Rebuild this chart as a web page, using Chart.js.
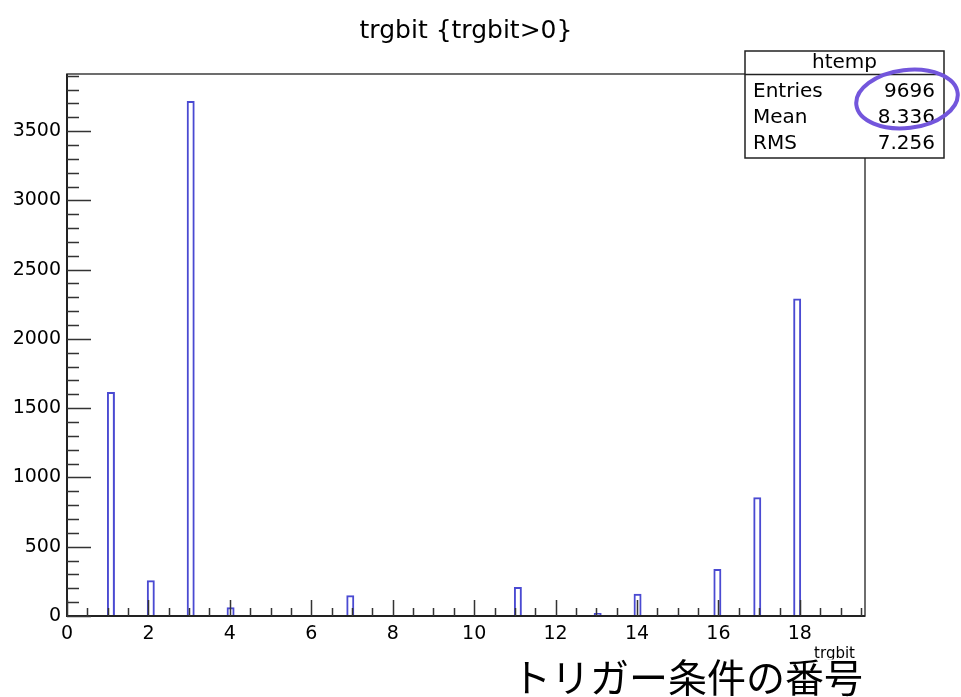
<!DOCTYPE html>
<html>
<head>
<meta charset="utf-8">
<script src="https://cdn.jsdelivr.net/npm/chart.js@4.4.1/dist/chart.umd.min.js"></script>
<style>
  html, body { margin: 0; padding: 0; background: #ffffff; }
  canvas { display: block; }
</style>
</head>
<body>
<canvas id="hist" width="961" height="697"></canvas>
<script>
// Histogram definition: 100 bins over [0, 19.6]
const histName = 'htemp';
const titleText = 'trgbit {trgbit>0}';
const xAxisTitle = 'trgbit';
const captionText = 'トリガー条件の番号';
const nBins = 100;
const xMin = 0;
const xMax = 19.6;
const yMax = 3912;

// Filled trigger-bit values and their counts
const trgbitValues = [1, 2, 3, 4, 7, 11, 13, 14, 15, 16, 17, 18];
const trgbitCounts = [1616, 258, 3718, 64, 150, 210, 22, 160, 9, 340, 857, 2292];

// Axis tick labels
const xTickValues = [0, 2, 4, 6, 8, 10, 12, 14, 16, 18];
const yTickValues = [0, 500, 1000, 1500, 2000, 2500, 3000, 3500];

// Fill the bins
const binWidth = (xMax - xMin) / nBins;
const binLabels = [];
const binContents = [];
for (let i = 0; i < nBins; i++) {
  binLabels.push((xMin + (i + 0.5) * binWidth).toFixed(3));
  binContents.push(null);
}
trgbitValues.forEach((v, k) => {
  const idx = Math.floor((v - xMin) / binWidth + 1e-9);
  binContents[idx] = (binContents[idx] || 0) + trgbitCounts[k];
});

// Statistics box contents
const nEntries = trgbitCounts.reduce((a, b) => a + b, 0);
const sumX = trgbitValues.reduce((a, v, k) => a + v * trgbitCounts[k], 0);
const sumX2 = trgbitValues.reduce((a, v, k) => a + v * v * trgbitCounts[k], 0);
const mean = sumX / nEntries;
const rms = Math.sqrt(sumX2 / nEntries - mean * mean);
const statRows = [
  ['Entries', String(nEntries)],
  ['Mean', mean.toFixed(3)],
  ['RMS', rms.toFixed(3)]
];

const FONT = "'DejaVu Sans', sans-serif";

// Frame, inward ticks, stats box and annotations
const framePlugin = {
  id: 'framePlugin',
  afterDraw(chart) {
    const ctx = chart.ctx;
    const a = chart.chartArea;
    const xs = chart.scales.xa;
    const ys = chart.scales.y;
    ctx.save();

    // frame
    ctx.strokeStyle = '#4a4a4a';
    ctx.lineWidth = 1.6;
    ctx.strokeRect(a.left, a.top, a.right - a.left, a.bottom - a.top);
    ctx.strokeStyle = '#222';
    ctx.lineWidth = 2;
    ctx.beginPath();
    ctx.moveTo(a.left, a.top);
    ctx.lineTo(a.left, a.bottom);
    ctx.lineTo(a.right, a.bottom);
    ctx.stroke();

    // y ticks (major every 500, minor every 100)
    ctx.strokeStyle = '#333';
    ctx.lineWidth = 1.5;
    ctx.beginPath();
    for (let v = 0; v <= yMax; v += 100) {
      const y = Math.round(ys.getPixelForValue(v)) + 0.5;
      const len = v % 500 === 0 ? 24 : 12;
      ctx.moveTo(a.left, y);
      ctx.lineTo(a.left + len, y);
    }
    // x ticks (major every 2, minor every 0.5)
    for (let k = 0; k * 0.5 <= xMax; k++) {
      const v = k * 0.5;
      const x = Math.round(xs.getPixelForValue(v)) + 0.5;
      const len = k % 4 === 0 ? 16 : 8;
      ctx.moveTo(x, a.bottom);
      ctx.lineTo(x, a.bottom - len);
    }
    ctx.stroke();

    // statistics box
    const bx = 745, by = 51, bw = 199, bh = 107, hh = 23.5;
    ctx.fillStyle = '#fff';
    ctx.fillRect(bx, by, bw, bh);
    ctx.strokeStyle = '#222';
    ctx.lineWidth = 1.5;
    ctx.strokeRect(bx, by, bw, bh);
    ctx.beginPath();
    ctx.moveTo(bx, by + hh);
    ctx.lineTo(bx + bw, by + hh);
    ctx.stroke();
    ctx.fillStyle = '#000';
    ctx.font = '20px ' + FONT;
    ctx.textBaseline = 'middle';
    ctx.textAlign = 'center';
    ctx.fillText(histName, bx + bw / 2, by + 12);
    const rowY = [92, 118, 144];
    statRows.forEach((r, i) => {
      ctx.textAlign = 'left';
      ctx.fillText(r[0], 753, rowY[i]);
      ctx.textAlign = 'right';
      ctx.fillText(r[1], 935, rowY[i]);
    });

    // highlight ellipse
    ctx.strokeStyle = '#7356dc';
    ctx.lineWidth = 4;
    ctx.beginPath();
    ctx.ellipse(907, 99, 51, 29, -0.12, 0, Math.PI * 2);
    ctx.stroke();

    // x axis title
    ctx.fillStyle = '#000';
    ctx.font = '15px ' + FONT;
    ctx.textAlign = 'right';
    ctx.textBaseline = 'alphabetic';
    ctx.fillText(xAxisTitle, 855, 658);

    // caption
    ctx.fillStyle = '#fff';
    ctx.fillRect(505, 659.5, 456, 40);
    ctx.fillStyle = '#000';
    ctx.font = "39px 'Noto Sans CJK JP', sans-serif";
    ctx.textAlign = 'left';
    ctx.fillText(captionText, 512, 692);

    ctx.restore();
  }
};

new Chart(document.getElementById('hist'), {
  type: 'bar',
  data: {
    labels: binLabels,
    datasets: [{
      label: histName,
      data: binContents,
      xAxisID: 'x',
      yAxisID: 'y',
      backgroundColor: 'rgba(0,0,0,0)',
      borderColor: '#4a4ad2',
      borderWidth: 2,
      borderSkipped: 'bottom',
      inflateAmount: 0,
      categoryPercentage: 1,
      barPercentage: 1
    }]
  },
  options: {
    responsive: false,
    animation: false,
    devicePixelRatio: 1,
    layout: { padding: { left: 0, right: 96, top: 0, bottom: 0 } },
    plugins: {
      legend: { display: false },
      tooltip: { enabled: false },
      title: {
        display: true,
        text: titleText,
        fullSize: false,
        color: '#000',
        font: { family: FONT, size: 25, weight: 'normal' },
        padding: { top: 16, bottom: 28 }
      }
    },
    scales: {
      x: {
        type: 'category',
        display: false,
        offset: true
      },
      xa: {
        type: 'linear',
        position: 'bottom',
        offset: false,
        min: xMin,
        max: xMax,
        afterBuildTicks: s => { s.ticks = xTickValues.map(v => ({ value: v })); },
        afterFit: s => { s.height = 81; },
        grid: { display: false, drawTicks: false, offset: false },
        border: { display: false },
        ticks: {
          color: '#000',
          font: { family: FONT, size: 19 },
          padding: 7,
          maxRotation: 0,
          autoSkip: false,
          callback: v => String(v)
        }
      },
      y: {
        type: 'linear',
        min: 0,
        max: yMax,
        afterBuildTicks: s => { s.ticks = yTickValues.map(v => ({ value: v })); },
        afterFit: s => { s.width = 67; },
        grid: { display: false, drawTicks: false },
        border: { display: false },
        ticks: {
          color: '#000',
          font: { family: FONT, size: 19 },
          padding: 6,
          callback: v => String(v)
        }
      }
    }
  },
  plugins: [framePlugin]
});
</script>
</body>
</html>
